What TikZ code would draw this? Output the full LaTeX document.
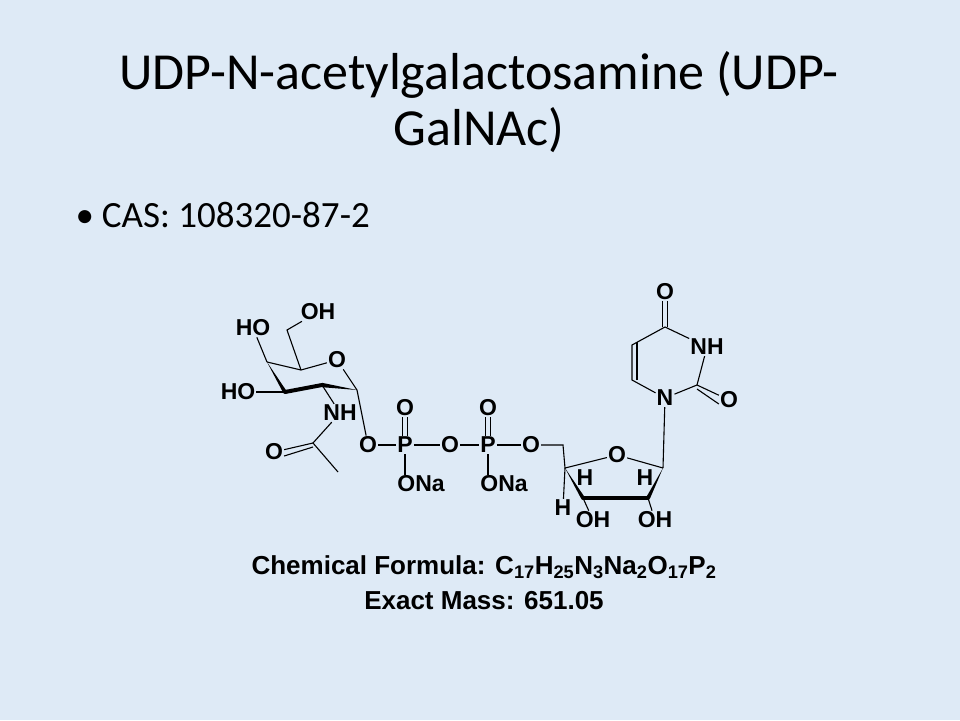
\documentclass[tikz,border=0pt]{standalone}
\usepackage{fontspec}
\setmainfont{Carlito}
\newfontfamily\chemfont{Liberation Sans}
\usetikzlibrary{positioning}
\definecolor{slidebg}{RGB}{222,234,246}
\newcommand\sub[1]{\textsubscript{#1}}
\tikzset{
  atom/.style={font=\chemfont\bfseries\fontsize{23}{23}\selectfont,inner sep=1pt},
  bond/.style={line width=1.1pt},
  bold/.style={line width=4pt},
  wedge/.style={fill=black}
}
\begin{document}
\begin{tikzpicture}[x=1pt,y=-1pt]
  \useasboundingbox[fill=slidebg] (0,0) rectangle (960,720);
  \node[font=\fontsize{52}{56}\selectfont,align=center] (title) at (479,102) {UDP-N-acetylgalactosamine (UDP-\\GalNAc)};
  \node[font=\fontsize{37}{40}\selectfont,anchor=west] (cas) at (72,215) {\textbullet\hspace{8pt}CAS: 108320-87-2};
  % sugar ring
  \coordinate (c1) at (357,390);
  \coordinate (c2) at (322,385);
  \coordinate (c3) at (285,392);
  \coordinate (c4) at (267,362);
  \coordinate (c5) at (301,370);
  \coordinate (c6) at (287,330);
  \node[atom] (o5) at (337,360) {O};
  \node[atom] (o6) at (318,312) {OH};
  \node[atom] (o4) at (253,328) {HO};
  \node[atom] (o3) at (238,392) {HO};
  \node[atom] (n2) at (340,413) {NH};
  \coordinate (cac) at (313,443);
  \coordinate (cme) at (338,472);
  \node[atom] (oac) at (274,452) {O};
  \node[atom] (o1) at (368,445) {O};
  \draw[bond] (c4) -- (c5) -- (o5) -- (c1);
  \draw[bond] (c5) -- (c6) -- (o6);
  \draw[bond] (c4) -- (o4);
  \draw[bond] (c3) -- (o3);
  \draw[bond] (c2) -- (n2);
  \draw[bond] (n2) -- (cac) -- (cme);
  \draw[bond] (cac) -- (oac);
  \draw[bond] ([yshift=-4pt]cac) -- ([yshift=-4pt]oac.east);
  \draw[bond] (c1) -- (o1);
  \draw[bold,line cap=round] (c2) -- (c3);
  \fill[wedge] (c1) -- ([yshift=-2.2pt]c2) -- ([yshift=2.2pt]c2) -- cycle;
  \fill[wedge] (c4) -- ([xshift=-2.2pt]c3) -- ([xshift=2.2pt]c3) -- cycle;
  % diphosphate
  \node[atom] (p1) at (405,445) {P};
  \node[atom] (p1o) at (405,408) {O};
  \node[atom] (p1na) at (421,484) {ONa};
  \node[atom] (ob) at (450,445) {O};
  \node[atom] (p2) at (488,445) {P};
  \node[atom] (p2o) at (488,408) {O};
  \node[atom] (p2na) at (504,484) {ONa};
  \node[atom] (o5r) at (531,445) {O};
  \draw[bond] (o1) -- (p1) -- (ob) -- (p2) -- (o5r);
  \draw[bond] (p1) -- (p1na.north west -| p1);
  \draw[bond] (p2) -- (p2na.north west -| p2);
  \draw[bond] ([xshift=-2.5pt]p1.north) -- ([xshift=-2.5pt]p1o.south);
  \draw[bond] ([xshift=2.5pt]p1.north) -- ([xshift=2.5pt]p1o.south);
  \draw[bond] ([xshift=-2.5pt]p2.north) -- ([xshift=-2.5pt]p2o.south);
  \draw[bond] ([xshift=2.5pt]p2.north) -- ([xshift=2.5pt]p2o.south);
  % ribose
  \coordinate (r5) at (563,445);
  \coordinate (r4) at (565,468);
  \node[atom] (ro) at (617,455) {O};
  \coordinate (r1) at (663,468);
  \coordinate (r2) at (648,498);
  \coordinate (r3) at (583,498);
  \node[atom] (h4) at (585,478) {H};
  \node[atom] (h1) at (645,478) {H};
  \node[atom] (h4b) at (563,508) {H};
  \node[atom] (o3r) at (593,520) {OH};
  \node[atom] (o2r) at (655,520) {OH};
  \draw[bond] (o5r) -- (r5) -- (r4) -- (ro) -- (r1);
  \draw[bond] (r4) -- (h4b);
  \draw[bond] (r3) -- (o3r);
  \draw[bond] (r2) -- (o2r);
  \draw[bold,line cap=round] (r3) -- (r2);
  \fill[wedge] (r4) -- ([xshift=-2.2pt]r3) -- ([xshift=2.2pt]r3) -- cycle;
  \fill[wedge] (r1) -- ([xshift=-2.2pt]r2) -- ([xshift=2.2pt]r2) -- cycle;
  % uracil
  \node[atom] (n1) at (665,398) {N};
  \coordinate (u6) at (632,380);
  \coordinate (u5) at (632,345);
  \coordinate (u4) at (665,327);
  \node[atom] (o4u) at (665,292) {O};
  \node[atom] (n3) at (707,347) {NH};
  \coordinate (u2) at (697,385);
  \node[atom] (o2u) at (729,400) {O};
  \draw[bond] (r1) -- (n1);
  \draw[bond] (n1) -- (u6) -- (u5) -- (u4) -- (n3) -- (u2) -- (n1);
  \draw[bond] ([xshift=5pt]u6) -- ([xshift=5pt,yshift=3pt]u5);
  \draw[bond] ([xshift=-2.5pt]u4) -- ([xshift=-2.5pt]o4u.south);
  \draw[bond] ([xshift=2.5pt]u4) -- ([xshift=2.5pt]o4u.south);
  \draw[bond] (u2) -- (o2u);
  \draw[bond] ([yshift=-4pt]u2) -- ([yshift=-4pt]o2u.west);
  % formula
  \node[font=\chemfont\bfseries\fontsize{26}{30}\selectfont] (formula) at (484,567) {Chemical Formula: C\sub{17}H\sub{25}N\sub{3}Na\sub{2}O\sub{17}P\sub{2}};
  \node[font=\chemfont\bfseries\fontsize{26}{30}\selectfont] (mass) at (484,601) {Exact Mass: 651.05};
\end{tikzpicture}
\end{document}
